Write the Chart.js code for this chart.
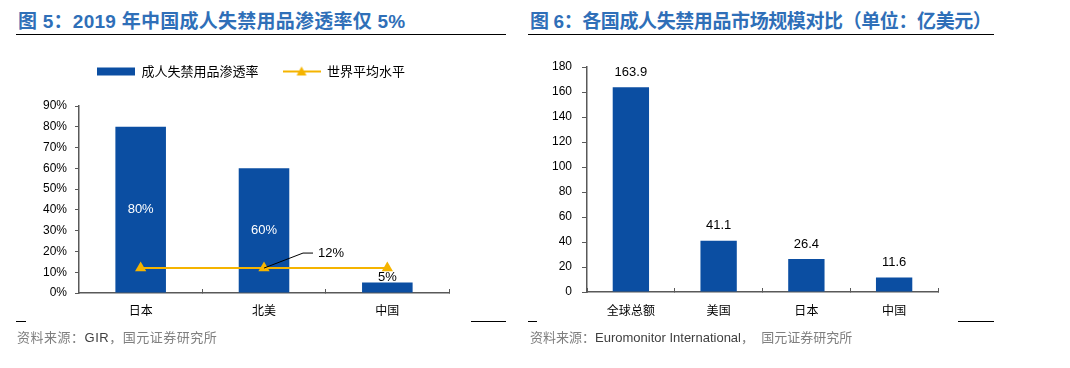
<!DOCTYPE html>
<html>
<head>
<meta charset="utf-8">
<script src="https://cdn.jsdelivr.net/npm/chart.js@4.4.0/dist/chart.umd.min.js"></script>
<style>
  body { margin: 0; background: #fff; width: 1070px; height: 368px; position: relative; overflow: hidden;
         font-family: "Liberation Sans", "Noto Sans CJK SC", sans-serif; }
  .title { position: absolute; top: 6px; font-size: 19px; font-weight: bold; color: #2f6fb8; white-space: nowrap;
           font-family: "Liberation Sans", "Noto Sans CJK SC", sans-serif; }
  .rule { position: absolute; top: 34px; height: 0; border-top: 1.5px solid #000; }
  .short { position: absolute; top: 321px; height: 0; border-top: 1px solid #000; }
  .src { position: absolute; top: 327px; font-size: 13px; color: #7f7f7f; white-space: nowrap;
         font-family: "Liberation Sans", "Noto Sans CJK SC", sans-serif; }
  .src span { color: #404040; }
  canvas { position: absolute; }
</style>
</head>
<body>
<div class="title" style="left:18px;letter-spacing:0.25px">图 5：2019 年中国成人失禁用品渗透率仅 5%</div>
<div class="rule" style="left:16px;width:490px"></div>
<div class="title" style="left:530px;letter-spacing:-0.4px">图 6：各国成人失禁用品市场规模对比（单位：亿美元）</div>
<div class="rule" style="left:528px;width:466px"></div>

<div style="position:absolute;left:0;top:35px;width:502px;height:295px"><canvas id="left"></canvas></div>
<div style="position:absolute;left:520px;top:40px;width:480px;height:290px"><canvas id="right"></canvas></div>

<div class="short" style="left:16px;width:10px"></div>
<div class="short" style="left:471px;width:35px"></div>
<div class="short" style="left:528px;width:9px"></div>
<div class="short" style="left:958px;width:36px"></div>
<div class="src" style="left:17px;letter-spacing:0.5px">资料来源：<span>GIR</span>，国元证券研究所</div>
<div class="src" style="left:530px">资料来源：<span>Euromonitor International</span>，&nbsp;&nbsp;国元证券研究所</div>

<script>
// 图5 data
var rateLabels = ['日本', '北美', '中国'];
var rateValues = [80, 60, 5];
var worldAvg = [12, 12, 12];
var rateTicks = [0, 10, 20, 30, 40, 50, 60, 70, 80, 90];

// 图6 data
var marketLabels = ['全球总额', '美国', '日本', '中国'];
var marketValues = [163.9, 41.1, 26.4, 11.6];

var BLUE = '#0b4ea2';
var YELLOW = '#f5b400';
var AXIS = '#595959';
var CJK = '"Noto Sans CJK SC", sans-serif';
var LAT = '"Liberation Sans", Arial, sans-serif';

function legendImg(kind) {
  var c = document.createElement('canvas');
  c.width = 38; c.height = 12;
  var g = c.getContext('2d');
  if (kind === 'bar') {
    g.fillStyle = BLUE;
    g.fillRect(0, 2, 38, 8);
  } else {
    g.strokeStyle = YELLOW; g.lineWidth = 2;
    g.beginPath(); g.moveTo(0, 6); g.lineTo(38, 6); g.stroke();
    g.fillStyle = YELLOW;
    g.beginPath(); g.moveTo(19, 1); g.lineTo(24, 10); g.lineTo(14, 10); g.closePath(); g.fill();
  }
  return c;
}

// empty axis used only to reserve space
function spacer(pos, size) {
  return {
    position: pos,
    display: true,
    grid: { display: false },
    border: { display: false },
    ticks: { display: false },
    afterFit: function (s) {
      if (pos === 'top') s.height = size; else s.width = size;
    }
  };
}

var barLabels = {
  id: 'barLabels',
  afterDatasetsDraw: function (chart, args, opts) {
    var ctx = chart.ctx;
    var meta = chart.getDatasetMeta(0);
    ctx.save();
    ctx.font = '13px ' + LAT;
    ctx.textAlign = 'center';
    ctx.textBaseline = 'middle';
    meta.data.forEach(function (bar, i) {
      var v = chart.data.datasets[0].data[i];
      if (opts.mode === 'pct') {
        if (v >= 20) {
          ctx.fillStyle = '#fff';
          ctx.fillText(v + '%', bar.x, (bar.y + bar.base) / 2);
        } else {
          ctx.fillStyle = '#000';
          ctx.fillText(v + '%', bar.x, bar.y - 5);
        }
      } else {
        ctx.fillStyle = '#000';
        ctx.fillText(v.toFixed(1), bar.x, bar.y - 15);
      }
    });
    ctx.restore();
  }
};

var avgNote = {
  id: 'avgNote',
  afterDatasetsDraw: function (chart) {
    var pt = chart.getDatasetMeta(1).data[1];
    var ctx = chart.ctx;
    ctx.save();
    ctx.strokeStyle = '#000';
    ctx.lineWidth = 1;
    ctx.beginPath();
    ctx.moveTo(pt.x, pt.y);
    ctx.lineTo(pt.x + 39, pt.y - 15);
    ctx.lineTo(pt.x + 49, pt.y - 15);
    ctx.stroke();
    ctx.fillStyle = '#000';
    ctx.font = '13px ' + LAT;
    ctx.textBaseline = 'middle';
    ctx.fillText(worldAvg[1] + '%', pt.x + 54, pt.y - 15);
    ctx.restore();
  }
};

new Chart(document.getElementById('left'), {
  data: {
    labels: rateLabels,
    datasets: [{
      type: 'bar',
      label: '成人失禁用品渗透率',
      data: rateValues,
      backgroundColor: BLUE,
      barPercentage: 1,
      categoryPercentage: 0.41,
      order: 2
    }, {
      type: 'line',
      label: '世界平均水平',
      data: worldAvg,
      borderColor: YELLOW,
      borderWidth: 2,
      backgroundColor: YELLOW,
      pointStyle: 'triangle',
      pointRadius: 6.5,
      pointBorderWidth: 0,
      order: 1
    }]
  },
  plugins: [barLabels, avgNote],
  options: {
    responsive: true,
    maintainAspectRatio: false,
    animation: false,
    layout: { padding: { left: 0, right: 0, top: 6, bottom: 0 } },
    plugins: {
      barLabels: { mode: 'pct' },
      tooltip: { enabled: false },
      legend: {
        position: 'top',
        labels: {
          usePointStyle: true,
          pointStyleWidth: 38,
          padding: 24,
          color: '#000',
          font: { family: CJK, size: 13 },
          generateLabels: function (chart) {
            return chart.data.datasets.map(function (ds, i) {
              return {
                text: ds.label,
                pointStyle: legendImg(ds.type),
                datasetIndex: i,
                lineWidth: 0,
                fontColor: '#000'
              };
            });
          }
        }
      }
    },
    scales: {
      x: {
        offset: true,
        grid: { offset: true, drawOnChartArea: false, tickLength: -4, color: AXIS, lineWidth: 1 },
        border: { color: AXIS, width: 1.5 },
        ticks: { color: '#000', font: { family: CJK, size: 12 }, padding: 14 },
        afterFit: function (s) { s.height = 37; }
      },
      y: {
        min: 0,
        max: 90,
        afterBuildTicks: function (s) { s.ticks = rateTicks.map(function (v) { return { value: v }; }); },
        grid: { drawOnChartArea: false, tickLength: 4, color: AXIS },
        border: { color: AXIS, width: 1.5 },
        ticks: { color: '#000', font: { family: LAT, size: 12 }, padding: 8,
                 callback: function (v) { return v + '%'; } },
        afterFit: function (s) { s.width = 79; }
      },
      padTop: Object.assign({ type: 'category', labels: rateLabels }, spacer('top', 18)),
      padRight: Object.assign({ type: 'linear' }, spacer('right', 53))
    }
  }
});

new Chart(document.getElementById('right'), {
  type: 'bar',
  data: {
    labels: marketLabels,
    datasets: [{
      label: '市场规模',
      data: marketValues,
      backgroundColor: BLUE,
      barPercentage: 1,
      categoryPercentage: 0.414
    }]
  },
  plugins: [barLabels],
  options: {
    responsive: true,
    maintainAspectRatio: false,
    animation: false,
    layout: { padding: { left: 0, right: 62, top: 27, bottom: 0 } },
    plugins: {
      barLabels: { mode: 'num' },
      legend: { display: false },
      tooltip: { enabled: false }
    },
    scales: {
      x: {
        grid: { offset: true, drawOnChartArea: false, tickLength: -4, color: AXIS },
        border: { color: AXIS, width: 1.5 },
        ticks: { color: '#000', font: { family: CJK, size: 12 }, padding: 15 },
        afterFit: function (s) { s.height = 38; }
      },
      y: {
        min: 0,
        max: 180,
        ticks: { stepSize: 20, color: '#000', font: { family: LAT, size: 12 }, padding: 10 },
        grid: { drawOnChartArea: false, tickLength: 5, color: AXIS },
        border: { color: AXIS, width: 1.5 },
        afterFit: function (s) { s.width = 67; }
      }
    }
  }
});
</script>
</body>
</html>
